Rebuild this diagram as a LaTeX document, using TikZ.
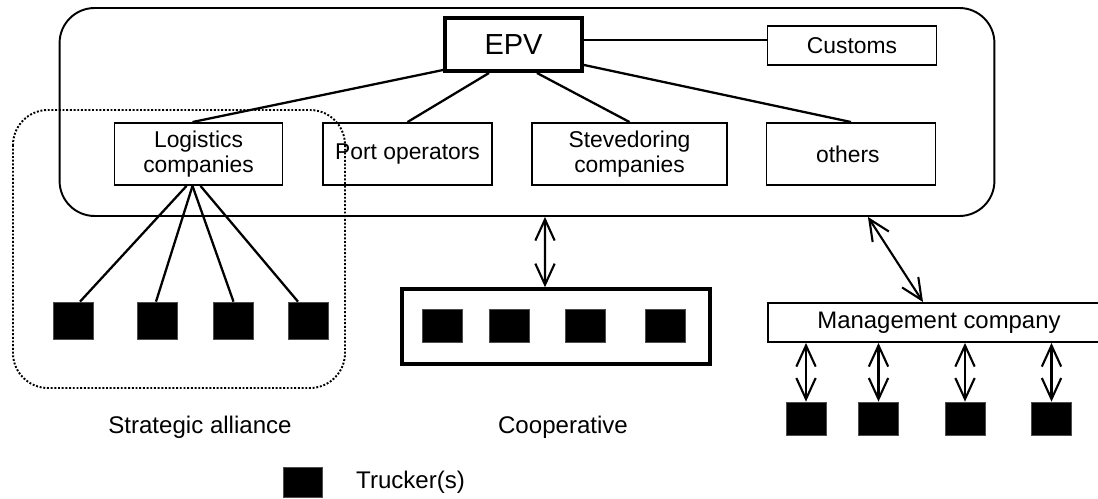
\documentclass[tikz,border=0pt]{standalone}
\usepackage{fontspec}
\setmainfont{Liberation Sans}
\usetikzlibrary{arrows.meta}
\tikzset{
	box/.style={draw, line width=1.1pt, inner sep=0pt, align=center,
		font=\fontsize{13}{14.5}\selectfont},
	trucker/.style={fill=black, draw=black!70, line width=0.4pt, inner sep=0pt},
	link/.style={line width=1.3pt},
	dbl/.style={line width=1.2pt,
		{Straight Barb[length=12pt,width=11pt]}-{Straight Barb[length=12pt,width=11pt]}},
	lbl/.style={font=\fontsize{13.7}{16}\selectfont}
}

\begin{document}
\begin{tikzpicture}[x=0.02cm, y=-0.02cm]
		\useasboundingbox (0,0) rectangle (1098,499);
		% port community and its members
		\node[draw, line width=1.1pt, rounded corners=0.7cm, minimum width=18.7cm,
			minimum height=4.16cm] (pc) at (527,112) {};
		\node[box, line width=2.3pt, minimum width=2.74cm, minimum height=1.06cm,
			font=\fontsize{16.5}{18}\selectfont] (epv) at (513.5,44.5) {EPV};
		\node[box, line width=0.9pt, minimum width=3.38cm, minimum height=0.78cm] (cus) at (852,45.5) {Customs};
		\foreach \n/\x/\w/\t in
		{
			logi/198.5/3.36/Logistics\\companies, ops/407.5/3.38/Port operators,
			stev/629.5/3.9/Stevedoring\\companies, oth/851/3.38/others
		}
		{
			\node[box, minimum width=\w cm, minimum height=1.24cm] (\n) at (\x,154) {\t};
		}
		\draw[line width=0.8pt] ([yshift=0.09cm]epv.east) -- ([yshift=0.11cm]cus.west);
		\draw[link] ([yshift=0.06cm]epv.south west) -- ([xshift=-0.12cm]logi.north);
		\draw[link] ([xshift=-0.49cm]epv.south) -- (ops.north);
		\draw[link] ([xshift=0.47cm]epv.south) -- (stev.north);
		\draw[link] ([yshift=-0.41cm]epv.east) -- (oth.north);

		% strategic alliance
		\draw[densely dotted, line width=1.1pt, rounded corners=0.7cm] (13,110) rectangle (345,388);
		\foreach \i/\x in {1/73.5, 2/157, 3/233.5, 4/308.5}
		{
			\node[trucker, minimum width=0.8cm, minimum height=0.74cm] (a\i) at (\x,320.5) {};
		}
		\foreach \i/\s/\e in {1/-0.24/0.13, 2/-0.12/-0.02, 3/-0.12/0, 4/0.04/-0.21}
		{
			\draw[link] ([xshift=\s cm]logi.south) -- ([xshift=\e cm]a\i.north);
		}
		\node[lbl] (sal) at (200,427) {Strategic alliance};

		% cooperative
		\node[draw, line width=2pt, minimum width=6.16cm, minimum height=1.5cm] (coop) at (556,326.5) {};
		\foreach \i/\x in {1/442, 2/509, 3/585, 4/665}
		{
			\node[trucker, minimum width=0.8cm, minimum height=0.66cm] (c\i) at (\x,325.5) {};
		}
		\draw[dbl] ([xshift=0.36cm]pc.south) -- ([xshift=-0.22cm]coop.north);
		\node[lbl] (coopl) at (563,427) {Cooperative};

		% management company
		\node[box, minimum width=6.84cm, minimum height=0.78cm,
			font=\fontsize{13.6}{15}\selectfont] (mgmt) at (939,322.5) {Management company};
		\draw[dbl] ([xshift=6.82cm]pc.south) -- ([xshift=-0.32cm]mgmt.north);
		\foreach \i/\x in {1/806, 2/878.5, 3/965, 4/1051.5}
		{
			\node[trucker, minimum width=0.8cm, minimum height=0.66cm] (m\i) at (\x,418.5) {};
			\draw[dbl] (m\i.north |- mgmt.south) -- (m\i.north);
		}

		% key
		\node[trucker, minimum width=0.78cm, minimum height=0.6cm] (key) at (302.5,482) {};
		\node[lbl, anchor=west] (keyl) at (350,482) {Trucker(s)};
		\end{tikzpicture}
\end{document}
